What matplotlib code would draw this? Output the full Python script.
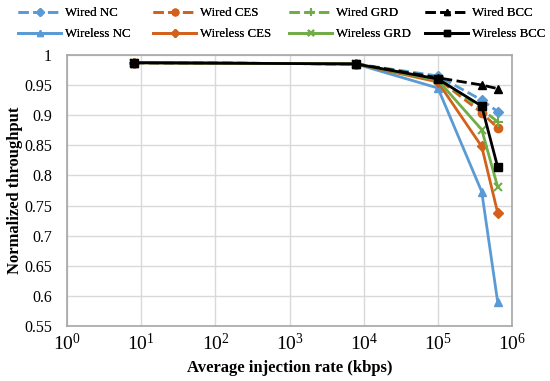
import numpy as np
import matplotlib
matplotlib.use("Agg")
import matplotlib.pyplot as plt

plt.rcParams['font.family'] = ['Liberation Serif', 'DejaVu Serif']
plt.rcParams['mathtext.fontset'] = 'stix'

# injection rate (kbps)
rate = [8, 7800, 1e5, 3.9e5, 6.4e5]

wired_nc = [0.987, 0.985, 0.965, 0.925, 0.906]
wired_ces = [0.987, 0.985, 0.960, 0.904, 0.879]
wired_grd = [0.987, 0.985, 0.962, 0.910, 0.889]
wired_bcc = [0.987, 0.985, 0.962, 0.950, 0.944]
wireless_nc = [0.987, 0.985, 0.945, 0.773, 0.590]
wireless_ces = [0.987, 0.985, 0.955, 0.848, 0.738]
wireless_grd = [0.987, 0.985, 0.958, 0.876, 0.781]
wireless_bcc = [0.987, 0.985, 0.960, 0.915, 0.814]

yticks = [0.55, 0.6, 0.65, 0.7, 0.75, 0.8, 0.85, 0.9, 0.95, 1]
ytick_labels = ['0.55', '0.6', '0.65', '0.7', '0.75', '0.8', '0.85', '0.9', '0.95', '1']

blue = '#5B9BD5'
orange = '#D2611B'
green = '#70AD47'
black = '#000000'

fig = plt.figure(figsize=(5.5, 3.81), dpi=100)
ax = fig.add_axes([0.122, 0.144, 0.809, 0.712])

lines = {}
# wired series: dashed
lines['Wired NC'] = ax.plot(rate, wired_nc, '--', color=blue, marker='D', ms=5, lw=2)[0]
lines['Wired CES'] = ax.plot(rate, wired_ces, '--', color=orange, marker='o', ms=6, lw=2)[0]
lines['Wired GRD'] = ax.plot(rate, wired_grd, '--', color=green, marker='+', ms=7, mew=1.5, lw=2)[0]
lines['Wired BCC'] = ax.plot(rate, wired_bcc, '--', color=black, marker='^', ms=6, lw=2)[0]
# wireless series: solid
lines['Wireless NC'] = ax.plot(rate, wireless_nc, '-', color=blue, marker='^', ms=6, lw=2)[0]
lines['Wireless CES'] = ax.plot(rate, wireless_ces, '-', color=orange, marker='D', ms=5, lw=2)[0]
lines['Wireless GRD'] = ax.plot(rate, wireless_grd, '-', color=green, marker='x', ms=6, mew=1.5, lw=2)[0]
lines['Wireless BCC'] = ax.plot(rate, wireless_bcc, '-', color=black, marker='s', ms=6, lw=2)[0]

ax.set_xscale('log')
ax.set_xlim(1, 1e6)
ax.set_ylim(0.55, 1.0)
ax.set_xticks([10 ** i for i in range(7)])
ax.xaxis.set_minor_locator(matplotlib.ticker.NullLocator())
ax.set_yticks(yticks)
ax.set_yticklabels(ytick_labels)

ax.grid(True, color='#D9D9D9', lw=1)
ax.set_axisbelow(True)
for s in ax.spines.values():
    s.set_color('#A6A6A6')
    s.set_linewidth(1.2)
ax.tick_params(axis='y', length=0, labelsize=11.5, pad=11)
ax.tick_params(axis='x', length=0, labelsize=14, pad=5)

ax.set_xlabel('Average injection rate (kbps)', fontsize=12, fontweight='bold', labelpad=4)
ax.set_ylabel('Normalized throughput', fontsize=12, fontweight='bold', labelpad=1)

# legend: one column per scheme, equal spacing like the original
columns = [('Wired NC', 'Wireless NC'), ('Wired CES', 'Wireless CES'),
           ('Wired GRD', 'Wireless GRD'), ('Wired BCC', 'Wireless BCC')]
col_x = [18, 153, 289, 425]
for names, x in zip(columns, col_x):
    leg = fig.legend([lines[k] for k in names], names, loc='upper left',
                     bbox_to_anchor=(x / 550, 1 - 7 / 381), frameon=False,
                     fontsize=9.3, handlelength=3.35, handletextpad=0.3,
                     labelspacing=0.7, markerscale=0.8, borderpad=0,
                     borderaxespad=0)
    fig.add_artist(leg)

fig.savefig('out.png', dpi=100)
